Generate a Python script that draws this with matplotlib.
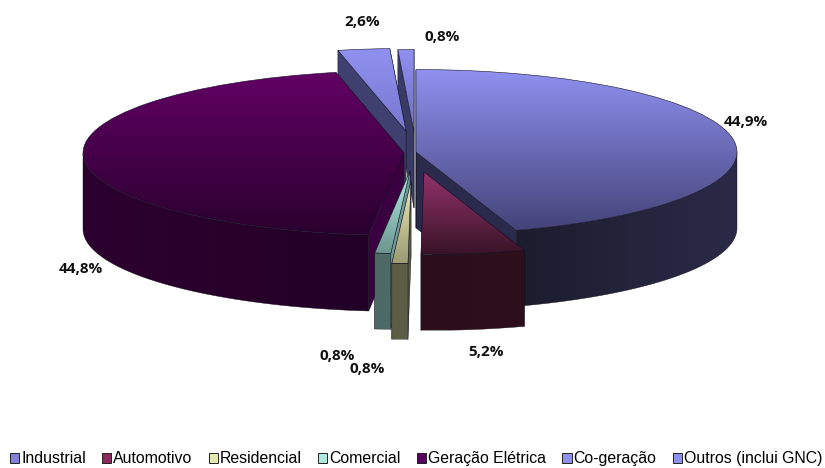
import numpy as np
import matplotlib
matplotlib.use("Agg")
import matplotlib.pyplot as plt
from matplotlib.colors import LinearSegmentedColormap
from matplotlib.patches import Polygon, Patch

categories = ["Industrial", "Automotivo", "Residencial", "Comercial",
              "Geração Elétrica", "Co-geração", "Outros (inclui GNC)"]
values = [44.9, 5.2, 0.8, 0.8, 44.8, 2.6, 0.8]
value_labels = ["44,9%", "5,2%", "0,8%", "0,8%", "44,8%", "2,6%", "0,8%"]

# style / layout
W, H = 825, 468
RX, RY, DEPTH = 321.0, 82.5, 76.0
tips_px = [(416, 152), (424, 172), (411, 181), (410, 171), (404, 153), (406, 131), (414, 132)]
top_colors = [("#9090f0", "#44447a"), ("#93336c", "#3a1428"), ("#eaeab8", "#9c9c74"),
              ("#b4ece6", "#6d9690"), ("#620064", "#2a002e"), ("#9090f0", "#7878d0"),
              ("#9090f0", "#6e6ec4")]
wall_colors = [("#1c1c2e", "#2a2a48"), ("#2c0e1a", "#2e0f1c"), ("#5c5d46", "#5c5d46"),
               ("#4d6a67", "#4d6a67"), ("#2d002f", "#220026"), ("#3c3c6a", "#3c3c6a"),
               ("#3c3c6a", "#3c3c6a")]
radial_colors = ["#2a2a4c", "#2c0e1a", "#5c5d46", "#6f9a95", "#3a0040", "#3f3f70", "#3a3a66"]
legend_colors = ["#8080d8", "#8a2a5a", "#e6e6b0", "#b0e8e0", "#5a0060", "#9090f0", "#9090f0"]
draw_order = [6, 5, 4, 0, 3, 2, 1]
label_px = [(746, 122), (486, 352), (367, 369), (337, 356), (81, 269), (362, 22), (442, 37)]

plt.rcParams["font.family"] = ["Liberation Sans", "DejaVu Sans"]
fig = plt.figure(figsize=(W / 100, H / 100), dpi=100)
ax = fig.add_axes([0, 0, 1, 1])

X0, Y0 = 415.0, 152.0
def px(x, y):
    return (x - X0) / RX, (Y0 - y) / RY

wedges, _ = ax.pie(values, startangle=90, counterclock=False, radius=1,
                   wedgeprops=dict(facecolor="none", edgecolor="#15152a", linewidth=0.4))
d = DEPTH / RY
xlim = (px(0, 0)[0], px(W, 0)[0])
ylim = (px(0, H)[1], px(0, 0)[1])

def gradient(c0, c1, extent, clip, z, horizontal=False):
    cmap = LinearSegmentedColormap.from_list("g", [c0, c1])
    g = np.linspace(0, 1, 128)
    g = g.reshape(1, -1) if horizontal else g.reshape(-1, 1)
    im = ax.imshow(g, cmap=cmap, extent=extent, origin="upper", aspect="auto",
                   zorder=z, interpolation="bilinear")
    im.set_clip_path(clip)

for rank, i in enumerate(draw_order):
    w = wedges[i]
    z = 10 + rank * 10
    cx, cy = px(*tips_px[i])
    w.set_center((cx, cy))
    w.set_zorder(z + 5)
    t = np.radians(np.linspace(w.theta1, w.theta2, 160))
    ex, ey = np.cos(t), np.sin(t)
    # radial side walls
    for k in (0, -1):
        p = [(cx, cy), (cx + ex[k], cy + ey[k]), (cx + ex[k], cy + ey[k] - d), (cx, cy - d)]
        ax.add_patch(Polygon(p, closed=True, facecolor=radial_colors[i], edgecolor="#101018",
                             linewidth=0.3, zorder=z))
    # outer rim wall, front part only
    m = ey <= 0
    if m.sum() > 1:
        ax_, ay_ = cx + ex[m], cy + ey[m]
        poly = np.r_[np.c_[ax_, ay_], np.c_[ax_, ay_ - d][::-1]]
        pg = Polygon(poly, closed=True, facecolor="none", edgecolor="#101018",
                     linewidth=0.3, zorder=z + 2)
        ax.add_patch(pg)
        gradient(wall_colors[i][0], wall_colors[i][1],
                 (ax_.min(), ax_.max() + 1e-6, poly[:, 1].min(), poly[:, 1].max()),
                 pg, z + 1, horizontal=True)
    # top face
    ys = np.r_[cy, cy + ey]
    xs = np.r_[cx, cx + ex]
    gradient(top_colors[i][0], top_colors[i][1],
             (xs.min(), xs.max() + 1e-6, ys.min(), ys.max() + 1e-6), w, z + 3)

ax.set_aspect("auto")
ax.set_xlim(*xlim)
ax.set_ylim(*ylim)
ax.axis("off")

for (lx, ly), s in zip(label_px, value_labels):
    x, y = px(lx, ly)
    ax.text(x, y, s, ha="center", va="center", fontsize=11, fontweight="bold",
            family="Open Sans", color="#111111", zorder=200)

handles = [Patch(facecolor=c, edgecolor="#222222", linewidth=0.7) for c in legend_colors]
fig.legend(handles, categories, loc="lower left", bbox_to_anchor=(8.5 / W, 0.0), ncol=7,
           frameon=False, fontsize=11.4, handlelength=0.58, handleheight=0.58,
           handletextpad=0.12, columnspacing=1.03, borderpad=0.1, borderaxespad=0.0,
           labelspacing=0)

fig.savefig("out.png", dpi=100)
